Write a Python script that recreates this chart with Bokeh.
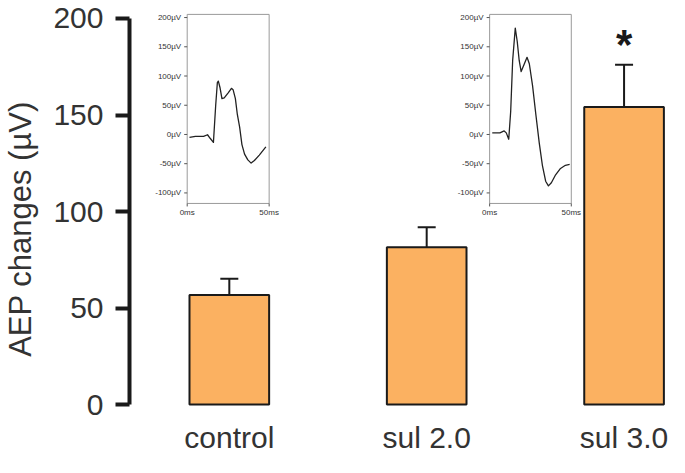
import math
from bokeh.plotting import figure
from bokeh.models import Range1d, FixedTicker, Whisker, TeeHead, ColumnDataSource
from bokeh.core.properties import value
from bokeh.embed import file_html
from bokeh.resources import INLINE

# ---------------- data ----------------
categories = ["control", "sul 2.0", "sul 3.0"]
means = [56.8, 81.5, 154.1]
error_upper = [65.2, 91.9, 176.0]
significant = [False, False, True]

y_ticks = [0, 50, 100, 150, 200]

inset_y_ticks = [200, 150, 100, 50, 0, -50, -100]
inset_y_labels = ["200µV", "150µV", "100µV", "50µV", "0µV", "-50µV", "-100µV"]
inset_x_ticks = [0, 50]
inset_x_labels = ["0ms", "50ms"]

wave_control_t = [1.4, 5.0, 10.0, 12.4, 14.0, 16.0, 17.4, 18.4, 19.0, 20.0, 21.2, 22.6,
                  25.0, 27.0, 28.0, 29.4, 30.6, 32.0, 33.4, 35.0, 37.0, 39.0, 41.0, 44.0, 48.0]
wave_control_v = [-5, -3.3, -3.3, -0.5, -6.5, -13.6, 50.5, 88.6, 91.2, 80.4, 61.4, 62.5,
                  71.2, 78.9, 76.6, 61.4, 34.2, 12.5, -17.3, -33.7, -43.5, -49, -44.6, -35.3, -21.3]

wave_sul3_t = [1.6, 6.3, 8.9, 10.2, 11.7, 12.9, 14.1, 15.7, 16.9, 18.1, 19.3, 20.9, 22.9,
               24.3, 26.3, 28.3, 30.4, 32.3, 34.3, 36.0, 37.8, 40.4, 43.4, 46.4, 49.0]
wave_sul3_v = [2.7, 2.7, 6, 2.7, -8.2, 39.7, 126.6, 182, 159, 126.6, 107.6, 118.5, 132,
               121, 83.1, 34.2, -14.7, -52.7, -80, -88, -82.6, -69, -58.1, -52.7, -51]

# ---------------- styling ----------------
FONT = "Liberation Sans"
TEXT_COLOR = "#333333"
BAR_COLOR = "#FBB161"
DARK = "#1a1a1a"

W, H = 669, 457
p = figure(width=W, height=H, output_backend="svg", toolbar_location=None,
           x_axis_type=None, x_range=Range1d(-0.5057, 2.2302),
           y_range=Range1d(-27.40, 209.31),
           min_border_left=128, min_border_right=0, min_border_top=0, min_border_bottom=0)
p.outline_line_color = None
p.grid.visible = False
p.background_fill_color = "white"
p.border_fill_color = "white"

yax = p.yaxis[0]
yax.ticker = FixedTicker(ticks=y_ticks)
yax.bounds = (min(y_ticks), max(y_ticks))
yax.axis_line_width = 4
yax.axis_line_color = DARK
yax.major_tick_line_width = 4
yax.major_tick_line_color = DARK
yax.major_tick_out = 14
yax.major_tick_in = 0
yax.minor_tick_line_color = None
yax.major_label_text_font = FONT
yax.major_label_text_font_size = "30px"
yax.major_label_text_color = TEXT_COLOR
yax.major_label_standoff = 12
yax.axis_label = "AEP changes (µV)"
yax.axis_label_text_font = FONT
yax.axis_label_text_font_size = "31px"
yax.axis_label_text_font_style = "normal"
yax.axis_label_text_color = TEXT_COLOR
yax.axis_label_standoff = 12

xs = list(range(len(categories)))
src = ColumnDataSource(dict(x=xs, top=means, upper=error_upper, label=categories))

# error bars
p.add_layout(Whisker(base="x", lower="top", upper="upper", source=src,
                     line_width=2, line_color=DARK,
                     upper_head=TeeHead(size=18, line_width=2, line_color=DARK),
                     lower_head=None))

p.vbar(x="x", top="top", bottom=0, width=0.4035, source=src,
       fill_color=BAR_COLOR, line_color=DARK, line_width=2)

# category labels
p.text(x="x", y=0, text="label", source=src, text_align="center",
       text_baseline="alphabetic", y_offset=33,
       text_font=value(FONT), text_font_size="30px", text_color=TEXT_COLOR)

# significance asterisk
sig_x = [x for x, s in zip(xs, significant) if s]
sig_y = [u for u, s in zip(error_upper, significant) if s]
p.text(x=sig_x, y=sig_y, text=["*"] * len(sig_x), text_align="center",
       text_baseline="alphabetic", y_offset=-20,
       text_font=value(FONT), text_font_size="42px", text_font_style="bold",
       text_color=DARK)

# ---------------- insets ----------------
src_x = Range1d(0, 50)
src_y = Range1d(-118.0, 205.4)


def add_inset(x0, x1, t, v):
    sub = p.subplot(x_source=Range1d(src_x.start, src_x.end),
                    y_source=Range1d(src_y.start, src_y.end),
                    x_target=Range1d(x0, x1), y_target=Range1d(104.19, 202.11))
    sub.quad(left=src_x.start, right=src_x.end, bottom=src_y.start, top=src_y.end,
             fill_color="white", line_color="#9a9a9a", line_width=1)
    sub.ray(x=[0] * len(inset_y_ticks), y=inset_y_ticks, length=3, length_units="screen",
            angle=math.pi, line_color="#555555", line_width=1)
    sub.text(x=[0] * len(inset_y_ticks), y=inset_y_ticks, text=inset_y_labels,
             x_offset=-6, text_align="right", text_baseline="middle",
             text_font=value(FONT), text_font_size="8px", text_color=TEXT_COLOR)
    sub.ray(x=inset_x_ticks, y=[src_y.start] * len(inset_x_ticks), length=3,
            length_units="screen", angle=-math.pi / 2, line_color="#555555", line_width=1)
    sub.text(x=inset_x_ticks, y=[src_y.start] * len(inset_x_ticks), text=inset_x_labels,
             y_offset=9, text_align="center", text_baseline="middle",
             text_font=value(FONT), text_font_size="8px", text_color=TEXT_COLOR)
    sub.line(t, v, line_color="#222222", line_width=1.3, line_join="round")


add_inset(-0.2134, 0.2018, wave_control_t, wave_control_v)
add_inset(1.3189, 1.7326, wave_sul3_t, wave_sul3_v)

open("out.html", "w").write(file_html(p, INLINE))
